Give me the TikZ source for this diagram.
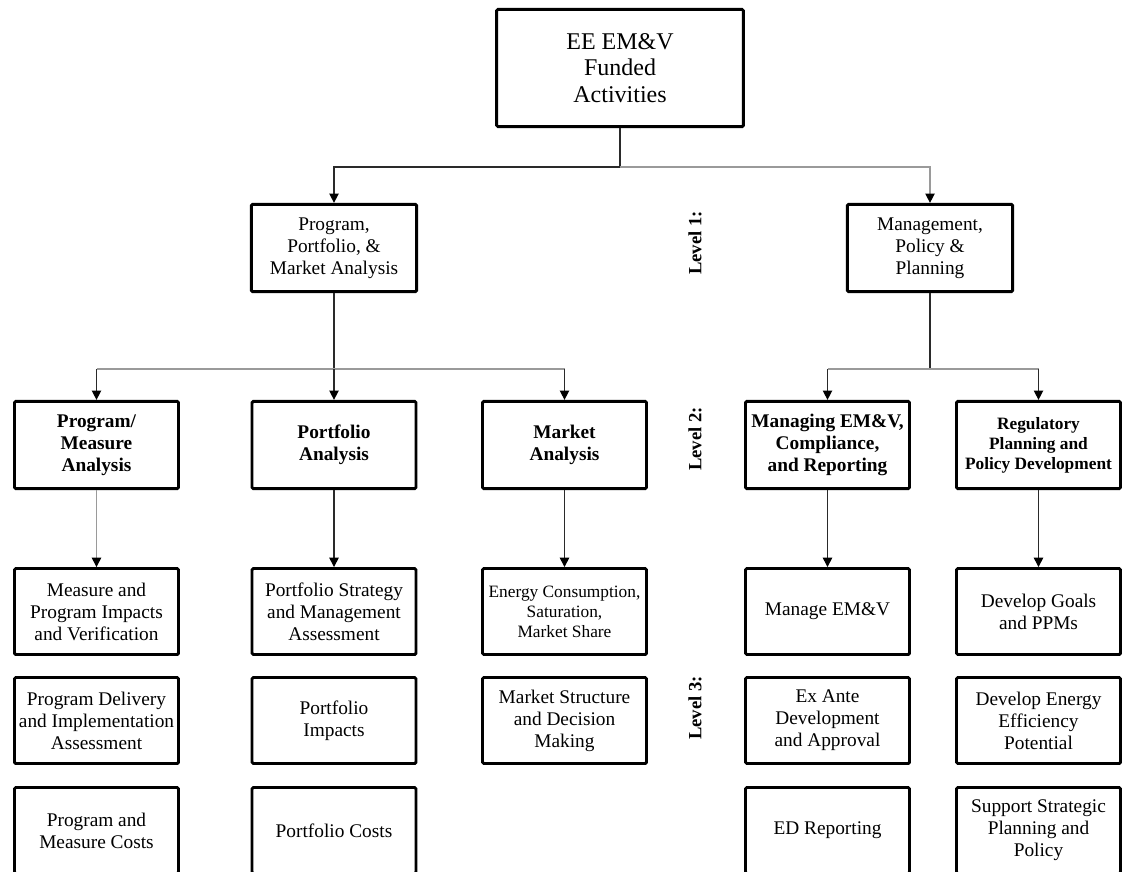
\documentclass[tikz,border=0pt]{standalone}
\usepackage{fontspec}
\setmainfont{Liberation Serif}
\usetikzlibrary{arrows.meta}
\definecolor{linegray}{HTML}{9A9A9A}
\definecolor{darkline}{HTML}{2A2A2A}

\begin{document}
\begin{tikzpicture}[x=0.75pt,y=-0.75pt]
\tikzstyle{every node}+=[inner sep=0pt]
\tikzstyle{box}=[draw=black,line width=2.2pt,rounded corners=1pt,align=center,font=\fontsize{14.5}{16.5}\selectfont]
\tikzstyle{lone}=[box,minimum width=124pt,minimum height=65.5pt]
\tikzstyle{ltwo}=[box,minimum width=123pt,minimum height=65.5pt,font=\fontsize{14.5}{16.5}\selectfont\bfseries]
\tikzstyle{lthree}=[box,minimum width=123pt,minimum height=64.5pt]
\tikzstyle{lvl}=[rotate=90,font=\fontsize{14}{16}\selectfont\bfseries]
\tikzstyle{conn}=[line width=1.1pt,darkline]
\tikzstyle{gconn}=[line width=1.1pt,linegray]
\tikzstyle{arr}=[-{Triangle[length=7pt,width=7pt,color=black]}]
\useasboundingbox[fill=white] (0,0) rectangle (1124,871);
\node[box,minimum width=185pt,minimum height=88pt,font=\fontsize{18}{20}\selectfont] (top) at (620,68) {EE EM\&V\\Funded\\Activities};
\node[lone] (ppm) at (334,248) {Program,\\Portfolio, \&\\Market Analysis};
\node[lone] (mpp) at (930,248) {Management,\\Policy \&\\Planning};
\node[lvl] (lev1) at (695,243) {Level 1:};
\node[lvl] (lev2) at (695,439) {Level 2:};
\node[lvl] (lev3) at (695,708) {Level 3:};
\node[ltwo] (pma) at (96.5,445) {Program/\\Measure\\Analysis};
\node[ltwo] (pfa) at (334,445) {Portfolio\\Analysis};
\node[ltwo] (mka) at (564.5,445) {Market\\Analysis};
\node[ltwo] (mec) at (827.5,445) {Managing EM\&V,\\Compliance,\\and Reporting};
\node[ltwo,font=\fontsize{13}{15}\selectfont\bfseries] (rpp) at (1038.5,445) {Regulatory\\Planning and\\Policy Development};
\node[lthree] (mpi) at (96.5,611.5) {Measure and\\Program Impacts\\and Verification};
\node[lthree] (pdi) at (96.5,720.5) {Program Delivery\\and Implementation\\Assessment};
\node[lthree] (pmc) at (96.5,830.5) {Program and\\Measure Costs};
\node[lthree] (psm) at (334,611.5) {Portfolio Strategy\\and Management\\Assessment};
\node[lthree] (pfi) at (334,720.5) {Portfolio\\Impacts};
\node[lthree] (pfc) at (334,830.5) {Portfolio Costs};
\node[lthree,font=\fontsize{13}{15}\selectfont] (ecs) at (564.5,611.5) {Energy Consumption,\\Saturation,\\Market Share};
\node[lthree] (msd) at (564.5,720.5) {Market Structure\\and Decision\\Making};
\node[lthree] (mev) at (827.5,611.5) {Manage EM\&V};
\node[lthree] (ead) at (827.5,720.5) {Ex Ante\\Development\\and Approval};
\node[lthree] (edr) at (827.5,830.5) {ED Reporting};
\node[lthree] (dgp) at (1038.5,611.5) {Develop Goals\\and PPMs};
\node[lthree] (dee) at (1038.5,720.5) {Develop Energy\\Efficiency\\Potential};
\node[lthree] (ssp) at (1038.5,830.5) {Support Strategic\\Planning and\\Policy};
\coordinate (j0) at (620,167);
\coordinate (j1) at (334,369);
\coordinate (j2) at (930,369);
\draw[conn] (top.south) -- (j0);
\draw[conn,arr] (j0) -| (ppm.north);
\draw[gconn,arr] (j0) -| (mpp.north);
\draw[conn] (ppm.south) -- (j1);
\draw[conn] (mpp.south) -- (j2);
\draw[gconn] (pma.north |- j1) -- (mka.north |- j1);
\draw[gconn] (mec.north |- j2) -- (rpp.north |- j2);
\foreach \n in {pma,pfa,mka,mec,rpp}
  \draw[conn,arr] (\n.north |- j1) -- (\n.north);
\draw[gconn,arr] (pma.south) -- (mpi.north);
\draw[conn,arr] (pfa.south) -- (psm.north);
\draw[conn,arr] (mka.south) -- (ecs.north);
\draw[conn,arr] (mec.south) -- (mev.north);
\draw[conn,arr] (rpp.south) -- (dgp.north);
\end{tikzpicture}
\end{document}
